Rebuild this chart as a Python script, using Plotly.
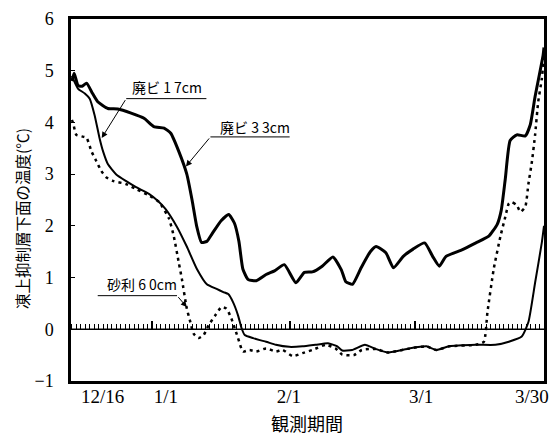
import plotly.graph_objects as go

# Observation period on a day axis (days counted from 12/1)
x_range = [12.8, 119.0]
tick_pos = [19.9, 34.1, 61.7, 91.4, 116.3]
tick_text = ["12/16", "1/1", "2/1", "3/1", "3/30"]
month_starts = [31, 62, 90]

# 廃ビ33cm
day_33 = [13.0, 13.5, 14.4, 15.3, 16.3, 17.5, 18.8, 21.1, 23.3, 26.3, 29.2, 31.4, 33.7,
          35.2, 37.0, 38.8, 40.0, 41.0, 42.1, 43.3, 44.5, 46.5, 48.2, 49.5, 50.5, 51.4,
          52.6, 54.4, 56.6, 58.5, 60.7, 63.3, 65.2, 67.0, 69.2, 71.6, 73.5, 74.5, 76.0,
          78.0, 80.0, 81.3, 83.5, 85.2, 87.4, 89.6, 92.2, 94.0, 95.5, 97.0, 100.7, 103.7,
          106.6, 108.5, 109.4, 110.3, 111.4, 112.9, 114.8, 115.9, 117.0, 118.8, 119.0]
temp_33 = [4.80, 4.95, 4.71, 4.70, 4.76, 4.58, 4.40, 4.27, 4.26, 4.18, 4.08, 3.92, 3.89,
           3.79, 3.44, 3.00, 2.49, 2.00, 1.68, 1.70, 1.85, 2.10, 2.22, 2.05, 1.70, 1.16,
           0.96, 0.94, 1.06, 1.13, 1.25, 0.90, 1.10, 1.11, 1.22, 1.40, 1.15, 0.92, 0.87,
           1.20, 1.50, 1.60, 1.48, 1.19, 1.41, 1.55, 1.67, 1.41, 1.22, 1.41, 1.54, 1.67,
           1.80, 2.03, 2.30, 2.90, 3.65, 3.76, 3.74, 3.95, 4.50, 5.30, 5.45]

# 廃ビ17cm
day_17 = [13.0, 13.3, 14.4, 15.9, 17.0, 18.1, 19.2, 20.0, 21.1, 22.9, 25.1, 27.4, 30.3,
          32.2, 34.0, 36.6, 38.8, 41.1, 43.3, 45.5, 47.0, 48.1, 49.2, 50.3, 51.1, 51.8,
          53.7, 55.2, 56.6, 58.8, 61.8, 64.8, 67.7, 70.5, 72.6, 73.7, 75.9, 78.8, 81.2,
          84.0, 88.8, 92.6, 94.8, 97.7, 103.7, 108.1, 111.1, 114.0, 115.5, 117.0, 118.5,
          119.0]
temp_17 = [4.90, 4.84, 4.65, 4.56, 4.46, 4.14, 3.70, 3.44, 3.19, 3.00, 2.87, 2.75, 2.62,
           2.49, 2.33, 1.98, 1.60, 1.16, 0.87, 0.78, 0.72, 0.68, 0.52, 0.27, 0.02, -0.11,
           -0.17, -0.21, -0.24, -0.30, -0.34, -0.33, -0.30, -0.27, -0.33, -0.41, -0.40,
           -0.30, -0.38, -0.45, -0.37, -0.33, -0.40, -0.33, -0.30, -0.30, -0.24, -0.14,
           0.14, 0.90, 1.67, 2.00]

# 砂利60cm
day_60 = [13.0, 13.3, 14.0, 15.2, 16.3, 17.4, 18.5, 19.6, 20.7, 22.2, 25.1, 27.4, 30.3,
          32.6, 34.8, 35.9, 37.0, 37.7, 38.8, 39.6, 40.3, 41.4, 42.6, 43.7, 45.2, 46.6,
          47.7, 48.8, 50.3, 51.4, 52.9, 54.4, 56.6, 58.8, 60.3, 62.6, 64.8, 67.0, 70.0,
          72.2, 73.7, 76.3, 78.1, 81.2, 84.0, 88.8, 92.6, 94.8, 97.7, 103.7, 105.5, 106.3,
          107.7, 109.2, 110.3, 111.1, 111.8, 112.9, 113.7, 114.8, 115.5, 116.3, 117.0,
          117.7, 118.5, 119.0]
temp_60 = [4.05, 3.98, 3.76, 3.73, 3.70, 3.44, 3.25, 3.06, 2.94, 2.87, 2.81, 2.71, 2.59,
           2.46, 2.14, 1.79, 1.29, 0.97, 0.40, 0.14, -0.08, -0.17, -0.11, 0.08, 0.27, 0.43,
           0.40, 0.21, -0.17, -0.43, -0.40, -0.43, -0.37, -0.43, -0.40, -0.52, -0.46, -0.40,
           -0.30, -0.37, -0.49, -0.50, -0.40, -0.38, -0.45, -0.37, -0.33, -0.40, -0.33,
           -0.30, -0.24, 0.33, 1.16, 1.79, 2.17, 2.43, 2.46, 2.40, 2.27, 2.37, 2.81, 3.25,
           3.76, 4.40, 4.84, 5.29]

font_serif = "Liberation Serif"
font_jp = "Noto Sans CJK JP"

fig = go.Figure()

fig.add_trace(go.Scatter(x=day_60, y=temp_60, mode="lines", name="砂利60cm",
                         line=dict(color="black", width=2.5, dash="3px,4px",
                                   shape="spline", smoothing=0.5)))
fig.add_trace(go.Scatter(x=day_17, y=temp_17, mode="lines", name="廃ビ17cm",
                         line=dict(color="black", width=2, shape="spline", smoothing=0.5)))
fig.add_trace(go.Scatter(x=day_33, y=temp_33, mode="lines", name="廃ビ33cm",
                         line=dict(color="black", width=3, shape="spline", smoothing=0.5)))

# zero line carrying the daily tick marks
fig.add_trace(go.Scatter(x=x_range, y=[0, 0], mode="lines", xaxis="x2",
                         line=dict(color="black", width=1.5), hoverinfo="skip"))

# labels with underline and arrow
labels = [
    # text, text x, text y, underline x0, x1, y, arrow head x, y
    ("廃ビ 1 7cm", 34.3, 4.68, 25.2, 43.2, 4.46, 19.7, 3.70),
    ("廃ビ 3 3cm", 54.1, 3.92, 44.1, 61.9, 3.72, 38.6, 3.15),
    ("砂利 6 0cm", 28.8, 0.87, 18.8, 36.6, 0.65, 38.8, 0.43),
]
for text, tx, ty, ux0, ux1, uy, hx, hy in labels:
    fig.add_annotation(x=tx, y=ty, text=text, showarrow=False, xref="x", yref="y",
                       font=dict(family=font_jp, size=14, color="black"))
    fig.add_shape(type="line", x0=ux0, x1=ux1, y0=uy, y1=uy, xref="x", yref="y",
                  line=dict(color="black", width=1))
    arrow_tail_x = ux0 if hx < ux0 else ux1
    fig.add_annotation(x=hx, y=hy, ax=arrow_tail_x, ay=uy, axref="x", ayref="y",
                       xref="x", yref="y", text="", showarrow=True,
                       arrowhead=2, arrowsize=1.2, arrowwidth=1, arrowcolor="black")

# axis titles
fig.add_annotation(text="凍上抑制層下面の温度(℃)", textangle=-90, xref="paper", yref="paper",
                   x=-0.104, y=0.45, xanchor="center", yanchor="middle", showarrow=False,
                   font=dict(family=font_jp, size=15.5, color="black"))
fig.add_annotation(text="観測期間", xref="paper", yref="paper", x=0.498, y=-0.117,
                   xanchor="center", yanchor="middle", showarrow=False,
                   font=dict(family=font_jp, size=18, color="black"))

fig.update_layout(
    width=558, height=439,
    margin=dict(l=71, r=9, t=14, b=58),
    paper_bgcolor="white", plot_bgcolor="white",
    showlegend=False,
    xaxis=dict(range=x_range, tickmode="array", tickvals=tick_pos, ticktext=tick_text,
               showgrid=False, zeroline=False, showline=True, linecolor="black",
               linewidth=2.5, mirror=True, ticks="", ticklabelstandoff=-4,
               tickfont=dict(family=font_serif, size=19, color="black")),
    xaxis2=dict(range=x_range, overlaying="x", anchor="free", position=1 / 7, side="top",
                showgrid=False, zeroline=False, showline=False, showticklabels=False,
                tickmode="array", tickvals=month_starts, ticks="outside", ticklen=8,
                tickwidth=1.5, tickcolor="black",
                minor=dict(tickmode="linear", tick0=0, dtick=1, ticks="outside",
                           ticklen=5, tickwidth=1, tickcolor="black")),
    yaxis=dict(range=[-1, 6], dtick=1, showgrid=False, zeroline=False, showline=True,
               linecolor="black", linewidth=2.5, mirror=True, ticks="inside", ticklen=4,
               tickcolor="black", ticklabelstandoff=11,
               tickfont=dict(family=font_serif, size=18, color="black")),
)

fig.write_html("out.html")
